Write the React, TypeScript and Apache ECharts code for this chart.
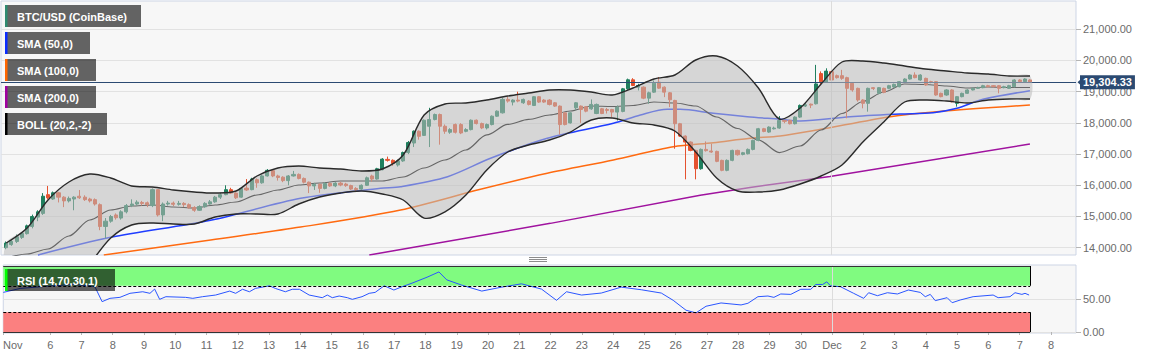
import React, { useEffect, useRef } from "react";
import * as echarts from "echarts";

const FONT = '"Liberation Sans", Arial, Helvetica, sans-serif';

// ---------- DATA ----------
// 4-hour candles, first one Nov 4 16:00 (day numbers counted in November, Dec 1 = 31)
const candleStartDay = 4 + 2 / 3;
const candleStepDays = 1 / 6;
// [open, close, low, high]
const candles: number[][] = [
  [14000, 14150, 13950, 14200], [14100, 14200, 14060, 14280], [14200, 14350, 14150, 14420], [14330, 14460, 14280, 14500],
  [14450, 14700, 14420, 14740], [14680, 15000, 14620, 15060], [14980, 15150, 14850, 15200], [15100, 15650, 15050, 15750],
  [15700, 15600, 15550, 15980], [15560, 15760, 15530, 15800], [15760, 15620, 15450, 15790], [15620, 15500, 15300, 15650],
  [15500, 15580, 15450, 15640], [15560, 15620, 15200, 15650], [15650, 15600, 15560, 15850], [15620, 15540, 15500, 15680],
  [15560, 15500, 15450, 15600], [15540, 15400, 15350, 15580], [15380, 14680, 14560, 15420], [14680, 14850, 14300, 14950],
  [14850, 15000, 14800, 15050], [15050, 14960, 14900, 15100], [14950, 15150, 14900, 15200], [15150, 15350, 15100, 15400],
  [15350, 15400, 15300, 15550], [15400, 15460, 15350, 15520], [15450, 15420, 15350, 15500], [15440, 15380, 15300, 15480],
  [15350, 15860, 15300, 15900], [15860, 15050, 15000, 15870], [15050, 15400, 14850, 15450], [15400, 15430, 15350, 15500],
  [15430, 15390, 15330, 15480], [15390, 15420, 15350, 15500], [15420, 15380, 15300, 15460], [15380, 15280, 15250, 15420],
  [15290, 15200, 15150, 15330], [15200, 15320, 15180, 15360], [15310, 15420, 15280, 15460], [15400, 15470, 15380, 15530],
  [15470, 15620, 15440, 15660], [15620, 15700, 15560, 15760], [15700, 15860, 15680, 16000], [15860, 15750, 15720, 15920],
  [15750, 15600, 15560, 15780], [15620, 15900, 15600, 15940], [15910, 15850, 15820, 16200], [15860, 16200, 15840, 16240],
  [16180, 16080, 15920, 16220], [16080, 16300, 16050, 16330], [16300, 16480, 16280, 16520], [16470, 16300, 16260, 16500],
  [16300, 16250, 16150, 16340], [16260, 16150, 16100, 16290], [16150, 16300, 16000, 16330], [16300, 16350, 16280, 16460],
  [16350, 16220, 16190, 16380], [16220, 16100, 16060, 16250], [16100, 15980, 15750, 16120], [15980, 16030, 15850, 16080],
  [16030, 15900, 15760, 16060], [15900, 16060, 15870, 16100], [16060, 15980, 15950, 16100], [15980, 16070, 15940, 16100],
  [16070, 16010, 15970, 16110], [16040, 15990, 15950, 16080], [15990, 15880, 15850, 16020], [15900, 15860, 15790, 15940],
  [15880, 16000, 15850, 16030], [16000, 16240, 15980, 16280], [16300, 16200, 16120, 16340], [16200, 16530, 16180, 16560],
  [16500, 16840, 16480, 16870], [16830, 16800, 16760, 16920], [16800, 16700, 16620, 16830], [16650, 16780, 16600, 16820],
  [16780, 17050, 16750, 17080], [17050, 17370, 17000, 17420], [17355, 17732, 17226, 17760], [17732, 17570, 17463, 17760],
  [17600, 18086, 17580, 18110], [17893, 18108, 17226, 18484], [18108, 18269, 18080, 18300], [18269, 17893, 17302, 18300],
  [17893, 17732, 17650, 17950], [17700, 17785, 17650, 17830], [17947, 17699, 17660, 17980], [17947, 17677, 17640, 17990],
  [17730, 17785, 17700, 17830], [17785, 18086, 17760, 18110], [18086, 17979, 17950, 18110], [17979, 17839, 17800, 18010],
  [17839, 17947, 17790, 17980], [17947, 18215, 17920, 18240], [18215, 18376, 18190, 18400], [18323, 18753, 18300, 18807],
  [18753, 18699, 18650, 18839], [18667, 18731, 18560, 18760], [18731, 18699, 18660, 19000], [18645, 18753, 18610, 18780],
  [18699, 18592, 18560, 18730], [18559, 18839, 18540, 18860], [18839, 18667, 18640, 18860], [18731, 18667, 18640, 18760],
  [18731, 18592, 18560, 18760], [18645, 18538, 18510, 18670], [18538, 17947, 17624, 18560], [18323, 17947, 17920, 18340],
  [18000, 18323, 17980, 18340], [18484, 18645, 18400, 18670], [18538, 18430, 18000, 18560], [18516, 18376, 18340, 18540],
  [18450, 18592, 18420, 18753], [18301, 18592, 18280, 18620], [18452, 18301, 18280, 18480], [18430, 18400, 18300, 18480],
  [18430, 18346, 18186, 18450], [18346, 18506, 18079, 18560], [18368, 19093, 18340, 19120], [19093, 19381, 19060, 19420],
  [19381, 19200, 19180, 19434], [19146, 19200, 19040, 19253], [19146, 18794, 18760, 19170], [18794, 18965, 18613, 19000],
  [18986, 19274, 18960, 19360], [19306, 19114, 19090, 19466], [19146, 18986, 18826, 19170], [18965, 18741, 18506, 18990],
  [18720, 17973, 17172, 18740], [17973, 17578, 17550, 18000], [17578, 17386, 16191, 17600], [17386, 17119, 17090, 17410],
  [17119, 16532, 16191, 17140], [16532, 17151, 16500, 17180], [17151, 17110, 17080, 17407], [17100, 17066, 17040, 17333],
  [17087, 16767, 16740, 17110], [16799, 16479, 16450, 16820], [16479, 16799, 16450, 16830], [16799, 17119, 16770, 17140],
  [17119, 16980, 16950, 17140], [16991, 17044, 16960, 17070], [17012, 17151, 16990, 17180], [17151, 17439, 17120, 17460],
  [17439, 17813, 17410, 17840], [17813, 17727, 17700, 17840], [17706, 17866, 17680, 17890], [17810, 17834, 17790, 17880],
  [17834, 18079, 17810, 18218], [18079, 18050, 17990, 18100], [18079, 17973, 17950, 18100], [17973, 18186, 17950, 18210],
  [18186, 18560, 18160, 18590], [18540, 18580, 18510, 18666], [18600, 18570, 18474, 18620], [18613, 19250, 18590, 19860],
  [19580, 19320, 19200, 19650], [19300, 19660, 19280, 19750], [19642, 19375, 19350, 19700], [19514, 19450, 19420, 19550],
  [19514, 19428, 19380, 19700], [19450, 19108, 18147, 19480], [19268, 19055, 19000, 19290], [19108, 18734, 18681, 19130],
  [18734, 18627, 18467, 18760], [18627, 19108, 18360, 19130], [19129, 19100, 19050, 19150], [18948, 19129, 18920, 19150],
  [19108, 18980, 18950, 19130], [19108, 19193, 19080, 19220], [19151, 19236, 19130, 19260], [19161, 19322, 19140, 19340],
  [19322, 19407, 19300, 19430], [19407, 19535, 19390, 19560], [19535, 19450, 19430, 19621], [19375, 19535, 19350, 19560],
  [19428, 19215, 19190, 19450], [19322, 19300, 19270, 19350], [19322, 18894, 18870, 19340], [18948, 18841, 18820, 18970],
  [18894, 19055, 18870, 19080], [19055, 18681, 18660, 19080], [18627, 18841, 18521, 18860], [18841, 18948, 18820, 18970],
  [18948, 19055, 18930, 19080], [19055, 19108, 19040, 19130], [19108, 19129, 19090, 19160], [19129, 19193, 19110, 19220],
  [19193, 19161, 19140, 19220], [19193, 19161, 19140, 19215], [19193, 19108, 18948, 19215], [19130, 19161, 19110, 19190],
  [19108, 19193, 19090, 19220], [19161, 19375, 19140, 19400], [19375, 19322, 19300, 19400], [19322, 19407, 19300, 19430],
  [19375, 19304.33, 19290, 19400],
];
const lastPrice = 19304.33;

// Bollinger bands sampled every 4th candle
const bollStepCandles = 4;
const bollUpper = [
  14151, 14631, 15529, 16106, 16362, 16234, 15978, 15946, 15849, 15785,
  15753, 15817, 16298, 16555, 16619, 16555, 16523, 16458, 16523, 16971,
  18253, 18606, 18638, 18734, 18862, 18958, 19055, 19055, 18990, 18894,
  19119, 19407, 19535, 20016, 20144, 19824, 19119, 18125, 18478, 19247,
  19952, 19984, 19920, 19824, 19728, 19663, 19599, 19567, 19503, 19503,
];
const bollMiddle = [
  13670, 13798, 13959, 14375, 14888, 15208, 15336, 15369, 15304, 15272,
  15369, 15465, 15689, 15849, 16010, 16074, 16138, 16138, 16138, 16266,
  16555, 16811, 17132, 17613, 17950, 18110, 18253, 18381, 18542, 18526,
  18558, 18670, 18638, 18542, 18189, 17821, 17452, 17050, 17260, 17773,
  18301, 18686, 18990, 19247, 19231, 19183, 19119, 19151, 19135, 19135,
];
const bollLower = [
  13189, 12965, 12388, 12645, 13477, 14311, 14728, 14792, 14760, 14760,
  14984, 15080, 15080, 15080, 15401, 15625, 15753, 15817, 15721, 15529,
  14950, 15150, 15689, 16490, 17067, 17292, 17452, 17708, 18093, 18157,
  17997, 17933, 17741, 17067, 16234, 15817, 15785, 15849, 16042, 16298,
  16651, 17388, 18029, 18670, 18734, 18702, 18638, 18734, 18766, 18766,
];

// Simple moving averages: [day, price]
const sma50 = [
  [5.68, 13767], [8.0, 14333], [11.19, 14880], [14.06, 15583], [16.61, 15904], [17.25, 15955],
  [18.75, 16276], [20.12, 16866], [21.93, 17507], [24.04, 17987], [24.9, 18253], [25.76, 18436],
  [26.17, 18436], [27.23, 18308], [28.31, 18199], [29.36, 18116], [30.0, 18061], [31.59, 18199],
  [33.19, 18285], [34.24, 18327], [35.0, 18468], [35.83, 18757], [37.33, 19032],
];
const sma100 = [
  [7.78, 13767], [11.19, 14250], [14.06, 14660], [17.25, 15208], [19.8, 15872], [21.93, 16385],
  [24.04, 16811], [25.95, 17237], [27.23, 17366], [28.4, 17507], [29.36, 17580], [30.54, 17773],
  [32.87, 18199], [34.36, 18359], [37.33, 18574],
];
const sma200 = [
  [16.25, 13767], [22.03, 14780], [26.81, 15680], [28.4, 15930], [30.95, 16280], [37.33, 17324],
];

// RSI(14): [day, value]
const rsi = [
  [4.5, 60], [5.04, 66], [5.55, 68], [6.09, 70], [6.73, 72], [7.21, 70], [7.43, 68.6], [7.66, 46],
  [7.91, 51], [8.23, 52.5], [8.55, 58.6], [8.96, 61], [9.19, 58.6], [9.34, 65], [9.5, 49.5], [9.7, 53.5],
  [10.33, 52.5], [10.56, 51], [10.87, 53.5], [11.29, 56], [11.74, 62], [11.93, 58.6], [12.15, 64.7],
  [12.37, 61], [12.56, 66], [13.01, 70], [13.2, 66], [13.52, 61], [13.74, 64.7], [13.97, 64.7], [14.28, 56],
  [14.7, 52], [14.86, 56], [15.02, 52], [15.24, 54.5], [15.5, 52], [15.66, 49.5], [15.97, 53.5], [16.2, 58.6],
  [16.39, 60], [16.68, 70], [16.99, 63.6], [17.25, 68.6], [17.57, 74], [18.05, 83], [18.43, 91], [18.68, 79],
  [19.16, 71], [19.8, 62], [20.44, 68], [21.07, 73], [21.71, 65], [22.19, 48], [22.51, 61], [22.99, 56],
  [23.62, 59], [24.26, 68], [24.9, 64], [25.54, 59], [25.92, 48], [26.33, 33], [26.65, 29], [26.97, 39],
  [27.45, 44], [28.09, 41], [28.31, 43.5], [28.63, 53.5], [28.95, 54.5], [29.14, 52.5], [29.36, 57.6],
  [29.68, 57], [30.0, 64.7], [30.32, 64.7], [30.48, 72], [30.7, 72], [30.83, 76], [30.95, 70], [31.27, 68.6],
  [31.69, 58.6], [32.01, 51], [32.17, 59.5], [32.45, 55], [32.77, 59.5], [33.09, 57.6], [33.44, 63.6],
  [33.82, 60], [33.98, 53.5], [34.14, 57], [34.3, 47.5], [34.68, 52], [34.84, 44.4], [35.1, 48.5],
  [35.51, 53.5], [36.15, 56], [36.31, 52], [36.69, 53.5], [36.85, 59.5], [37.07, 57], [37.17, 58.6], [37.3, 56],
];

const priceTicks = [14000, 15000, 16000, 17000, 18000, 19000, 20000, 21000];
const rsiTicks = [0, 50];
const dayTicks = [4.5, 6, 7, 8, 9, 10, 11, 12, 13, 14, 15, 16, 17, 18, 19, 20, 21, 22, 23, 24, 25, 26, 27, 28, 29, 30, 31, 32, 33, 34, 35, 36, 37, 38];
const monthStartDay = 31; // Dec 1

const legendItems = [
  { label: "BTC/USD (CoinBase)", color: "#2e8a70" },
  { label: "SMA (50,0)", color: "#0a2cff" },
  { label: "SMA (100,0)", color: "#ff6600" },
  { label: "SMA (200,0)", color: "#a000a0" },
  { label: "BOLL (20,2,-2)", color: "#000000" },
];
const rsiLabel = { label: "RSI (14,70,30,1)", color: "#00ff00" };

// ---------- CHART ----------
const fmtPrice = (v: number) =>
  v.toLocaleString("en-US", { minimumFractionDigits: 2, maximumFractionDigits: 2 });

function labelBox(text: string, stripe: string, x: number, y: number, w: number, bg: string) {
  return {
    type: "group",
    x,
    y,
    children: [
      { type: "rect", z: 100, shape: { x: 0, y: 0, width: w, height: 22 }, style: { fill: bg } },
      { type: "rect", z: 101, shape: { x: 0, y: 0, width: 2.5, height: 22 }, style: { fill: stripe } },
      {
        type: "text",
        z: 102,
        x: 12,
        y: 11.5,
        style: { text, fill: "#ffffff", font: `bold 11px ${FONT}`, verticalAlign: "middle", align: "left" },
      },
    ],
  };
}

function buildOption() {
  const candleDays = candles.map((_, i) => candleStartDay + i * candleStepDays);
  const candleData = candles.map((c, i) => [candleDays[i], c[0], c[1], c[2], c[3]]);
  const lastDay = candleDays[candleDays.length - 1];
  const bollDays = bollUpper.map((_, k) => candleStartDay + k * bollStepCandles * candleStepDays);

  const xMin = 4.5;
  const xMax = 38.8;
  const labelColor = "#6b6b6b";
  const tagColor = "#2b4a72";
  const boxW = [136, 85, 91, 91, 102];
  const bandSmooth = 0.3;

  const legendGraphic = legendItems.map((it, k) => labelBox(it.label, it.color, 5, 5 + k * 27, boxW[k], "rgba(0,0,0,0.6)"));
  const rsiGraphic = labelBox(rsiLabel.label, rsiLabel.color, 5, 269, 110, "rgba(0,0,0,0.62)");

  const handle = [257.5, 259.5, 261.5].map((y) => ({
    type: "line",
    z: 100,
    shape: { x1: 529, y1: y, x2: 547, y2: y },
    style: { stroke: "#8c8c8c", lineWidth: 1 },
  }));

  const bandRender = (params: any, api: any) => {
    const up = bollDays.map((d, k) => api.coord([d, bollUpper[k]]));
    const lo = bollDays.map((d, k) => api.coord([d, bollLower[k]]));
    const cs = params.coordSys;
    const clipPath = { type: "rect", shape: { x: cs.x, y: cs.y, width: cs.width, height: cs.height } };
    return {
      type: "group",
      children: [
        {
          type: "polygon",
          z2: 1,
          shape: { points: up.concat(lo.slice().reverse()), smooth: bandSmooth },
          style: { fill: "rgba(188,188,188,0.55)", stroke: null },
          clipPath,
        },
        {
          type: "polyline",
          z2: 2,
          shape: { points: up, smooth: bandSmooth },
          style: { stroke: "#2a2a2a", lineWidth: 1.4, fill: null },
          clipPath,
        },
        {
          type: "polyline",
          z2: 2,
          shape: { points: lo, smooth: bandSmooth },
          style: { stroke: "#2a2a2a", lineWidth: 1.4, fill: null },
          clipPath,
        },
      ],
    };
  };

  return {
    animation: false,
    textStyle: { fontFamily: FONT },
    grid: [
      { left: 1, top: 1, width: 1075, height: 254, show: true, backgroundColor: "#f7f7f7", borderColor: "#cdd5e5", borderWidth: 1 },
      { left: 1, top: 265, width: 1075, height: 68, show: true, backgroundColor: "#f7f7f7", borderColor: "#cdd5e5", borderWidth: 1 },
    ],
    xAxis: [
      { gridIndex: 0, type: "value", min: xMin, max: xMax, show: false },
      {
        gridIndex: 1,
        type: "value",
        min: xMin,
        max: xMax,
        axisLine: { show: false },
        splitLine: { show: false },
        axisTick: { show: true, length: 3, customValues: dayTicks, lineStyle: { color: "#b5b5b5" } },
        axisLabel: {
          customValues: dayTicks,
          color: labelColor,
          fontSize: 11,
          fontFamily: FONT,
          margin: 6,
          formatter: (v: number) =>
            v < 5 ? "{n|Nov}" : v === monthStartDay ? "Dec" : String(v > monthStartDay ? v - 30 : v),
          rich: { n: { padding: [0, 0, 0, 19], color: labelColor, fontSize: 11, fontFamily: FONT } },
        },
      },
    ],
    yAxis: [
      {
        gridIndex: 0,
        type: "value",
        position: "right",
        min: 13766,
        max: 21907,
        splitNumber: 8,
        axisLine: { show: false },
        axisTick: { show: true, length: 5, customValues: priceTicks, lineStyle: { color: "#b5b5b5" } },
        axisLabel: { customValues: priceTicks, color: labelColor, fontSize: 11, fontFamily: FONT, margin: 7, formatter: fmtPrice },
        splitLine: { show: true, lineStyle: { color: "#e2e2e2", width: 1 } },
      },
      {
        gridIndex: 1,
        type: "value",
        position: "right",
        min: -1.5,
        max: 101.5,
        splitNumber: 2,
        axisLine: { show: false },
        axisTick: { show: true, length: 5, customValues: rsiTicks, lineStyle: { color: "#b5b5b5" } },
        axisLabel: { customValues: rsiTicks, color: labelColor, fontSize: 11, fontFamily: FONT, margin: 7, formatter: fmtPrice },
        splitLine: { show: true, lineStyle: { color: "#e2e2e2", width: 1 } },
      },
    ],
    graphic: [...legendGraphic, rsiGraphic, ...handle],
    series: [
      {
        name: "BTC/USD",
        type: "candlestick",
        xAxisIndex: 0,
        yAxisIndex: 0,
        z: 2,
        data: candleData,
        encode: { x: 0, y: [1, 2, 3, 4] },
        barWidth: 3.6,
        itemStyle: { color: "#1f7f5e", color0: "#e5522f", borderColor: "#1f7f5e", borderColor0: "#e5522f", borderWidth: 1 },
        markLine: {
          silent: true,
          symbol: ["none", "none"],
          label: { show: false },
          lineStyle: { color: "#dcdcdc", width: 1, type: "solid" },
          data: [{ xAxis: monthStartDay }],
        },
      },
      {
        name: "SMA 200",
        type: "line",
        z: 2,
        data: sma200,
        symbol: "none",
        lineStyle: { color: "#a0139f", width: 1.5 },
      },
      {
        name: "SMA 100",
        type: "line",
        z: 2,
        data: sma100,
        symbol: "none",
        smooth: 0.3,
        lineStyle: { color: "#ff6a10", width: 1.5 },
      },
      {
        name: "SMA 50",
        type: "line",
        z: 2,
        data: sma50,
        symbol: "none",
        smooth: 0.3,
        lineStyle: { color: "#1f3dff", width: 1.5 },
      },
      {
        name: "BOLL mid",
        type: "line",
        z: 2,
        data: bollMiddle.map((v, k) => [bollDays[k], v]),
        symbol: "none",
        smooth: bandSmooth,
        smoothMonotone: "x",
        lineStyle: { color: "#000000", width: 1.2 },
      },
      {
        name: "BOLL band",
        type: "custom",
        xAxisIndex: 0,
        yAxisIndex: 0,
        z: 6,
        silent: true,
        clip: true,
        data: [[bollDays[0], bollUpper[0]]],
        encode: { x: 0, y: 1 },
        renderItem: bandRender,
        markLine: {
          silent: true,
          symbol: ["none", "none"],
          lineStyle: { color: tagColor, width: 1, type: "solid" },
          label: {
            show: true,
            position: "end",
            distance: 4,
            formatter: fmtPrice(lastPrice),
            backgroundColor: tagColor,
            color: "#ffffff",
            fontWeight: "bold",
            fontSize: 11,
            fontFamily: FONT,
            padding: [2, 3, 1, 3],
          },
          data: [{ yAxis: lastPrice }],
        },
        markPoint: {
          silent: true,
          symbol: "triangle",
          symbolSize: [9, 5],
          symbolRotate: 90,
          symbolOffset: [4, 0],
          itemStyle: { color: tagColor },
          label: { show: false },
          data: [{ coord: [xMax, lastPrice] }],
        },
      },
      {
        name: "RSI",
        type: "line",
        xAxisIndex: 1,
        yAxisIndex: 1,
        data: rsi,
        symbol: "none",
        lineStyle: { color: "#2a55ff", width: 1 },
        markArea: {
          silent: true,
          data: [
            [{ xAxis: xMin, yAxis: 70, itemStyle: { color: "#80fb80" } }, { xAxis: lastDay, yAxis: 100 }],
            [{ xAxis: xMin, yAxis: 0, itemStyle: { color: "#fb8080" } }, { xAxis: lastDay, yAxis: 30 }],
          ],
        },
        markLine: {
          silent: true,
          symbol: ["none", "none"],
          label: { show: false },
          data: [
            { xAxis: monthStartDay, lineStyle: { color: "#dcdcdc", width: 1, type: "solid" } },
            [{ coord: [xMin, 70], lineStyle: { color: "#000", width: 1, type: [3, 2] } }, { coord: [lastDay, 70] }],
            [{ coord: [xMin, 30], lineStyle: { color: "#000", width: 1, type: [3, 2] } }, { coord: [lastDay, 30] }],
            [{ coord: [xMin, 100], lineStyle: { color: "#333", width: 1, type: "solid" } }, { coord: [lastDay, 100] }],
            [{ coord: [xMin, 0], lineStyle: { color: "#333", width: 1, type: "solid" } }, { coord: [lastDay, 0] }],
            [{ coord: [lastDay, 70], lineStyle: { color: "#000", width: 1, type: "solid" } }, { coord: [lastDay, 100] }],
            [{ coord: [lastDay, 0], lineStyle: { color: "#000", width: 1, type: "solid" } }, { coord: [lastDay, 30] }],
          ],
        },
      },
    ],
  };
}

export default function App() {
  const ref = useRef<HTMLDivElement>(null);
  useEffect(() => {
    const el = ref.current;
    if (!el) return;
    const chart = echarts.init(el, undefined, { renderer: "svg" });
    chart.setOption(buildOption() as any);
    return () => chart.dispose();
  }, []);
  return (
    <div
      ref={ref}
      style={{ position: "absolute", left: 0, top: 0, width: 1153, height: 359, background: "#ffffff" }}
    />
  );
}
